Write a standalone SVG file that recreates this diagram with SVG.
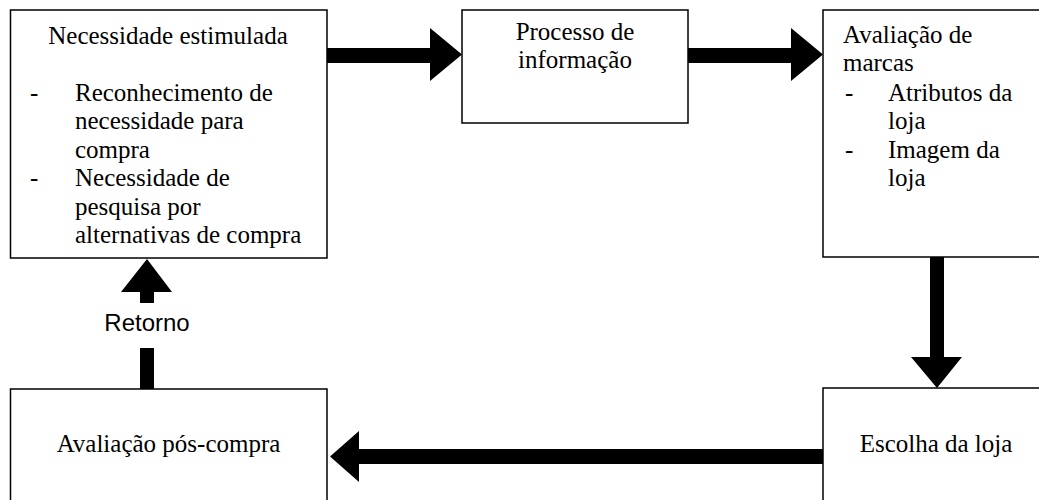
<svg xmlns="http://www.w3.org/2000/svg" width="1039" height="500" viewBox="0 0 1039 500">
<style>
.box{fill:#fff;stroke:#000;stroke-width:1.5}
.c{text-anchor:middle}
.arr{fill:#000}
</style>
<rect width="1039" height="500" fill="#fff"/>
<g id="connectors">
<polygon class="arr" points="327,48 430,48 430,28 462,54.5 430,81 430,63 327,63"/>
<polygon class="arr" points="688,48 791,48 791,28 823,54.5 791,81 791,63 688,63"/>
<polygon class="arr" points="930,257 944,257 944,357 962,357 937,388 911,357 930,357"/>
<polygon class="arr" points="823,449 359,449 359,431 330,456.5 359,482 359,464 823,464"/>
<polygon class="arr" points="147,259 172,292 154,292 154,303 140,303 140,292 121,292"/>
<rect class="arr" x="140" y="348" width="14" height="41"/>
<text class="c" x="147" y="331" font-family="'Liberation Sans', Arial, sans-serif" font-size="24">Retorno</text>
</g>
<g font-family="'Liberation Serif', 'Times New Roman', 'DejaVu Serif', serif" font-size="25" fill="#000">
<g id="necessidade">
<rect class="box" x="10.5" y="10" width="316.5" height="248"/>
<text class="c" x="168" y="44">Necessidade estimulada</text>
<text x="30" y="100.5">-</text>
<text x="75" y="100.5">Reconhecimento de</text>
<text x="75" y="129">necessidade para</text>
<text x="75" y="157.5">compra</text>
<text x="30" y="186">-</text>
<text x="75" y="186">Necessidade de</text>
<text x="75" y="214.5">pesquisa por</text>
<text x="75" y="243">alternativas de compra</text>
</g>
<g id="processo">
<rect class="box" x="462" y="10" width="226" height="113"/>
<text class="c" x="575" y="39.5">Processo de</text>
<text class="c" x="575" y="68">informação</text>
</g>
<g id="avaliacao-marcas">
<rect class="box" x="823" y="10" width="230" height="247"/>
<text x="843" y="42.5">Avaliação de</text>
<text x="843" y="71">marcas</text>
<text x="845" y="100.5">-</text>
<text x="888" y="100.5">Atributos da</text>
<text x="888" y="129">loja</text>
<text x="845" y="157.5">-</text>
<text x="888" y="157.5">Imagem da</text>
<text x="888" y="186">loja</text>
</g>
<g id="escolha">
<rect class="box" x="823" y="388" width="227" height="130"/>
<text class="c" x="936" y="452">Escolha da loja</text>
</g>
<g id="pos-compra">
<rect class="box" x="10.5" y="389" width="316.5" height="130"/>
<text class="c" x="168.5" y="452">Avaliação pós-compra</text>
</g>
</g>
</svg>
